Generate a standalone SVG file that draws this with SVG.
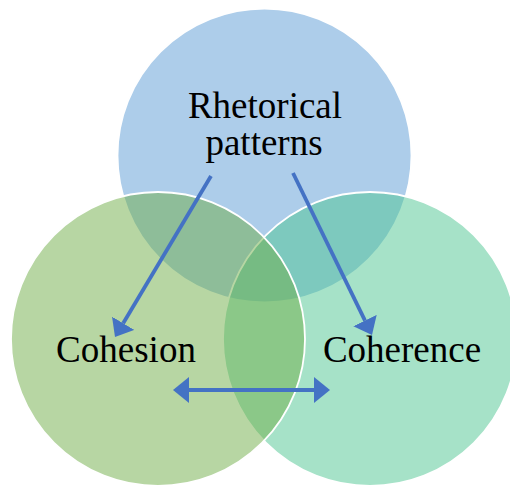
<svg xmlns="http://www.w3.org/2000/svg" width="510" height="487" viewBox="0 0 510 487">
<style>
.c{stroke:#fff;stroke-width:1.8;fill-opacity:0.5}
.t{font-family:"Liberation Serif","Times New Roman",serif;font-size:37px;fill:#000;text-anchor:middle}
.a{stroke:#4472C4;stroke-width:3.8;fill:none}
</style>
<defs>
<marker id="ah" viewBox="0 -13 16 26" markerWidth="16" markerHeight="26" refX="0" refY="0" markerUnits="userSpaceOnUse" orient="auto-start-reverse">
<path d="M0,-13 L16,0 L0,13 z" fill="#4472C4"/>
</marker>
</defs>
<rect width="510" height="487" fill="#fff"/>
<g id="rhetorical">
<circle class="c" cx="264.5" cy="155.5" r="147" fill="#5B9BD5"/>
</g>
<g id="coherence">
<circle class="c" cx="370" cy="339" r="147" fill="#4DC591"/>
</g>
<g id="cohesion">
<circle class="c" cx="158" cy="339" r="147" fill="#70AD47"/>
</g>
<g id="labels">
<text class="t" x="265" y="118">Rhetorical</text>
<text class="t" x="264" y="155">patterns</text>
<text class="t" x="126" y="362">Cohesion</text>
<text class="t" x="402" y="362">Coherence</text>
</g>
<g id="connectors">
<line class="a" x1="211" y1="176" x2="123.2" y2="323.3" marker-end="url(#ah)"/>
<line class="a" x1="293" y1="173" x2="365" y2="320.6" marker-end="url(#ah)"/>
<line class="a" x1="189" y1="390" x2="314" y2="390" marker-start="url(#ah)" marker-end="url(#ah)"/>
</g>
</svg>
